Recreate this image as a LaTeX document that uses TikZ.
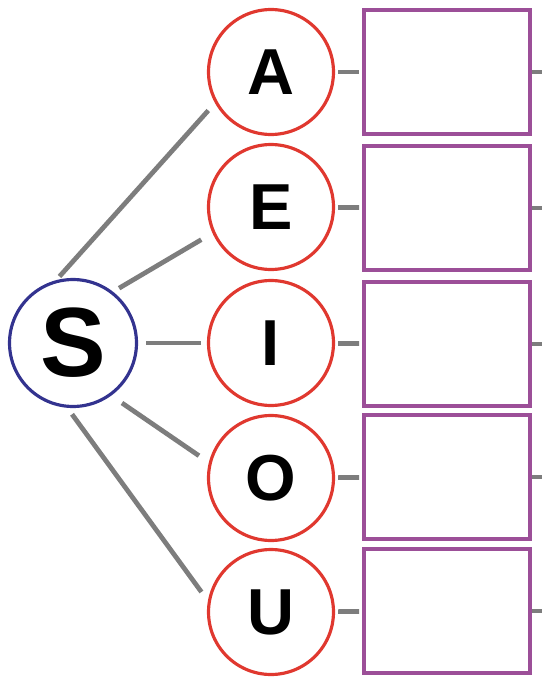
\documentclass[tikz,border=0pt]{standalone}
\usepackage{fontspec}
\setmainfont{Liberation Sans}
\usetikzlibrary{positioning}
\definecolor{vowelred}{HTML}{E0382F}
\definecolor{rootblue}{HTML}{33338F}
\definecolor{boxpurple}{HTML}{9C4F98}
\definecolor{linkgray}{HTML}{7D7D7D}

\begin{document}
\begin{tikzpicture}[x=0.02cm,y=-0.02cm,
  root/.style={circle,draw=rootblue,line width=1.8pt,minimum size=2.54cm,inner sep=0pt,
    font=\fontsize{56}{56}\selectfont\bfseries},
  vowel/.style={circle,draw=vowelred,line width=1.8pt,minimum size=2.5cm,inner sep=0pt,
    font=\fontsize{37}{37}\selectfont\bfseries},
  answer/.style={rectangle,draw=boxpurple,line width=2pt,minimum width=3.33cm,
    minimum height=2.49cm,inner sep=0pt},
  link/.style={draw=linkgray,line width=2.7pt}]

        \useasboundingbox (0,0) rectangle (542,679);

        % Define vertices by coordinates
        \node[root] (S) at (73,343) {S};
        \node[vowel] (A) at (271,72) {A};
        \node[vowel] (E) at (271,207) {E};
        \node[vowel] (I) at (271,343) {I};
        \node[vowel] (O) at (271,478) {O};
        \node[vowel] (U) at (271,612) {U};

        % Empty boxes
        \node[answer] (bA) at (447,72) {};
        \node[answer] (bE) at (447,208) {};
        \node[answer] (bI) at (447,344) {};
        \node[answer] (bO) at (447,477) {};
        \node[answer] (bU) at (447,611) {};

        % Free ends at the right margin
        \coordinate (tA) at (542,72);
        \coordinate (tE) at (542,208);
        \coordinate (tI) at (542,344);
        \coordinate (tO) at (542,477);
        \coordinate (tU) at (542,611);

        % Draw edges
        \draw[link,shorten <=0.1cm,shorten >=0.2cm] (S.105) -- (A.209);
        \draw[link,shorten <=0.14cm,shorten >=0.26cm] (S.52) -- (E.204);
        \draw[link,shorten <=0.16cm,shorten >=0.12cm] (S.east) -- (I.west);
        \draw[link,shorten <=0.26cm,shorten >=0.24cm] (S.-54) -- (O.166);
        \draw[link,shorten <=0.16cm,shorten >=0.22cm] (S.265) -- (U.170);

        \draw[link,shorten <=0.06cm,shorten >=0.06cm] (A) -- (bA);
        \draw[link,shorten <=0.06cm,shorten >=0.06cm] (E) -- (bE);
        \draw[link,shorten <=0.06cm,shorten >=0.06cm] (I) -- (bI);
        \draw[link,shorten <=0.06cm,shorten >=0.06cm] (O) -- (bO);
        \draw[link,shorten <=0.06cm,shorten >=0.06cm] (U) -- (bU);

        \draw[link] (bA) -- (tA);
        \draw[link] (bE) -- (tE);
        \draw[link] (bI) -- (tI);
        \draw[link] (bO) -- (tO);
        \draw[link] (bU) -- (tU);

\end{tikzpicture}
\end{document}
